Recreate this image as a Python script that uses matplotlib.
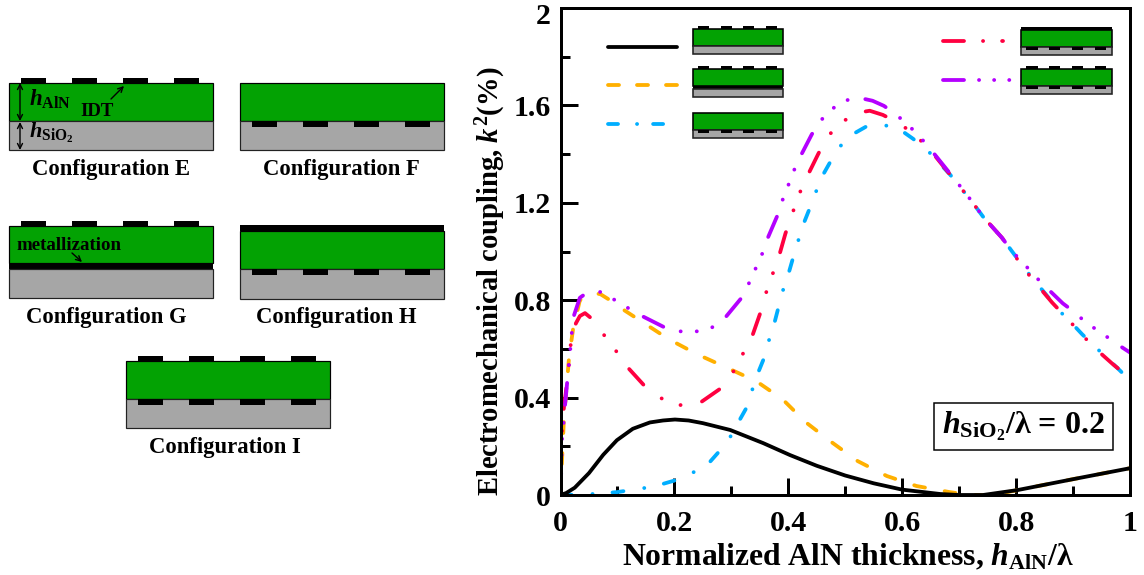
import matplotlib
matplotlib.use('Agg')
import matplotlib.pyplot as plt
from matplotlib.lines import Line2D
from matplotlib.patches import Rectangle
from matplotlib.transforms import ScaledTranslation

plt.rcParams['font.family'] = ['Liberation Serif', 'DejaVu Serif']
plt.rcParams['font.weight'] = 'bold'
plt.rcParams['mathtext.fontset'] = 'custom'
plt.rcParams['mathtext.rm'] = 'Liberation Serif:bold'
plt.rcParams['mathtext.it'] = 'Liberation Serif:italic:bold'
plt.rcParams['mathtext.bf'] = 'Liberation Serif:bold'
plt.rcParams['lines.scale_dashes'] = False

# values
black_x = [0, 0.01, 0.025, 0.05, 0.075, 0.099, 0.127, 0.157, 0.18, 0.201, 0.225, 0.25, 0.298, 0.356, 0.403,
           0.45, 0.5, 0.55, 0.6, 0.667, 0.7, 0.742, 0.802, 0.9, 1]
black_y = [0, 0.008, 0.03, 0.09, 0.165, 0.225, 0.272, 0.298, 0.306, 0.31, 0.306, 0.295, 0.267, 0.213, 0.164,
           0.12, 0.08, 0.048, 0.022, 0.004, 0, 0, 0.02, 0.065, 0.11]

orange_x = [0, 0.003, 0.006, 0.015, 0.022, 0.034, 0.054, 0.07, 0.087, 0.098, 0.19, 0.24, 0.29, 0.344, 0.39,
            0.43, 0.476, 0.522, 0.573, 0.625, 0.683, 0.72, 0.76, 0.802, 0.9, 1]
orange_y = [0, 0.16, 0.31, 0.565, 0.68, 0.80, 0.83, 0.825, 0.80, 0.78, 0.64, 0.578, 0.525, 0.467, 0.393,
            0.30, 0.217, 0.139, 0.078, 0.037, 0.012, 0, 0, 0.02, 0.065, 0.11]

blue_x = [0, 0.05, 0.1, 0.148, 0.179, 0.204, 0.234, 0.262, 0.279, 0.299, 0.315, 0.327, 0.337, 0.348, 0.357,
          0.366, 0.376, 0.39, 0.401, 0.408, 0.417, 0.427, 0.436, 0.448, 0.46, 0.473, 0.49, 0.515, 0.536,
          0.568, 0.599, 0.619, 0.645, 0.684, 0.721, 0.742, 0.775, 0.793, 0.819, 0.877, 0.9, 0.916, 0.982, 1]
blue_y = [0, 0.003, 0.012, 0.029, 0.045, 0.062, 0.094, 0.135, 0.18, 0.242, 0.31, 0.36, 0.434, 0.508, 0.56,
          0.635, 0.71, 0.836, 0.914, 0.971, 1.041, 1.115, 1.168, 1.242, 1.311, 1.365, 1.43, 1.484, 1.512,
          1.52, 1.496, 1.463, 1.414, 1.316, 1.209, 1.143, 1.057, 1.0, 0.918, 0.754, 0.70, 0.66, 0.512, 0.47]

red_x = [0, 0.001, 0.003, 0.006, 0.012, 0.018, 0.027, 0.034, 0.043, 0.057, 0.078, 0.099, 0.118, 0.148, 0.176,
         0.209, 0.244, 0.279, 0.302, 0.318, 0.336, 0.35, 0.36, 0.371, 0.383, 0.395, 0.406, 0.418, 0.432,
         0.452, 0.467, 0.492, 0.522, 0.543, 0.566, 0.596, 0.624, 0.649, 0.684, 0.721, 0.742, 0.775, 0.793,
         0.812, 0.835, 0.863, 0.886, 0.935, 0.97, 1]
red_y = [0, 0.18, 0.275, 0.36, 0.47, 0.62, 0.705, 0.735, 0.747, 0.72, 0.652, 0.587, 0.524, 0.447, 0.398,
         0.369, 0.377, 0.434, 0.50, 0.57, 0.648, 0.742, 0.824, 0.898, 0.975, 1.074, 1.148, 1.23, 1.303,
         1.398, 1.467, 1.529, 1.57, 1.578, 1.561, 1.525, 1.475, 1.418, 1.316, 1.209, 1.143, 1.057, 1.0,
         0.934, 0.869, 0.791, 0.734, 0.61, 0.537, 0.48]

purple_x = [0, 0.002, 0.003, 0.006, 0.008, 0.012, 0.015, 0.02, 0.024, 0.034, 0.046, 0.071, 0.096, 0.12, 0.144,
            0.183, 0.21, 0.239, 0.266, 0.288, 0.318, 0.33, 0.341, 0.353, 0.362, 0.38, 0.388, 0.399, 0.409,
            0.42, 0.441, 0.455, 0.475, 0.497, 0.525, 0.548, 0.568, 0.59, 0.612, 0.631, 0.649, 0.694, 0.712,
            0.742, 0.775, 0.793, 0.812, 0.83, 0.851, 0.882, 0.903, 0.924, 0.949, 0.97, 1]
purple_y = [0, 0.156, 0.24, 0.31, 0.37, 0.47, 0.54, 0.67, 0.74, 0.81, 0.83, 0.834, 0.80, 0.766, 0.734,
            0.688, 0.672, 0.672, 0.688, 0.725, 0.81, 0.865, 0.922, 0.983, 1.045, 1.143, 1.2, 1.266, 1.328,
            1.385, 1.48, 1.533, 1.582, 1.619, 1.631, 1.619, 1.598, 1.561, 1.516, 1.471, 1.422, 1.291, 1.238,
            1.143, 1.057, 1.0, 0.955, 0.906, 0.857, 0.787, 0.75, 0.705, 0.668, 0.631, 0.585]

x_ticks = [0, 0.2, 0.4, 0.6, 0.8, 1]
x_tick_labels = ['0', '0.2', '0.4', '0.6', '0.8', '1']
y_ticks = [0, 0.4, 0.8, 1.2, 1.6, 2]
y_tick_labels = ['0', '0.4', '0.8', '1.2', '1.6', '2']

GREEN = '#03A203'
GRAY = '#A6A6A6'
ORANGE = '#FFB000'
BLUE = '#00AEFF'
RED = '#FF0040'
PURPLE = '#B400FF'

W, H = 1144, 575
PX = 0.72  # one pixel in points at dpi 100


def dash(*pixels):
    return (0, [p * PX for p in pixels])


orange_dash = dash(11, 20)
blue_dash = dash(11, 21, 0.1, 20)
red_dash = dash(21, 23, 0.1, 20, 0.1, 22)
purple_dash = dash(22, 18, 0.1, 16, 0.1, 16, 0.1, 18)

fig = plt.figure(figsize=(W / 100, H / 100), dpi=100)

# main plot
ax = fig.add_axes([560.5 / W, (H - 495) / H, 569.5 / W, 487 / H])
line_w = 3.8 * PX
style = dict(lw=line_w, dash_capstyle='round', solid_capstyle='round', solid_joinstyle='round', clip_on=True)
ax.plot(orange_x, orange_y, color=ORANGE, ls=orange_dash, **style)
ax.plot(blue_x, blue_y, color=BLUE, ls=blue_dash, **style)
ax.plot(red_x, red_y, color=RED, ls=red_dash, **style)
ax.plot(purple_x, purple_y, color=PURPLE, ls=purple_dash, **style)
ax.plot(black_x, black_y, color='black', ls='-', **style)

ax.set_xlim(0, 1)
ax.set_ylim(0, 2)
ax.set_xticks(x_ticks)
ax.set_xticklabels(x_tick_labels)
ax.set_yticks(y_ticks)
ax.set_yticklabels(y_tick_labels)
ax.set_xticks([0.1, 0.3, 0.5, 0.7, 0.9], minor=True)
ax.set_yticks([0.2, 0.6, 1.0, 1.4, 1.8], minor=True)
ax.tick_params(which='major', direction='in', length=17 * PX, width=3 * PX, labelsize=21.5)
ax.tick_params(which='minor', direction='in', length=9 * PX, width=3 * PX)
ax.tick_params(axis='x', which='major', pad=11)
ax.tick_params(axis='y', which='major', pad=7)
for sp in ax.spines.values():
    sp.set_linewidth(3 * PX)

# top label sits a little below its tick so it stays on the canvas
top_label = ax.get_yticklabels()[-1]
top_label.set_transform(top_label.get_transform() + ScaledTranslation(0, -5 / 100, fig.dpi_scale_trans))

# overlay in pixel coordinates for schematics and text
ov = fig.add_axes([0, 0, 1, 1], zorder=5)
ov.set_xlim(0, W)
ov.set_ylim(H, 0)
ov.axis('off')
ov.patch.set_alpha(0)


def stack(x, top, width, green_h, gray_h, top_idt=False, mid_idt=False, top_metal=0, mid_metal=0,
          idt_h=5.5, edge=1.2):
    k = width / 204
    y = top
    if top_metal:
        ov.add_patch(Rectangle((x, y), width, top_metal, fc='black', ec='none'))
        y += top_metal
    ov.add_patch(Rectangle((x, y), width, green_h, fc=GREEN, ec='black', lw=edge * PX))
    y += green_h
    if mid_metal:
        ov.add_patch(Rectangle((x, y), width, mid_metal, fc='black', ec='none'))
    y2 = y + mid_metal
    ov.add_patch(Rectangle((x, y2), width, gray_h, fc=GRAY, ec='#222222', lw=edge * PX))
    for off in [12, 63, 114, 165]:
        if top_idt:
            ov.add_patch(Rectangle((x + off * k, top - idt_h), 25 * k, idt_h, fc='black', ec='none'))
        if mid_idt:
            ov.add_patch(Rectangle((x + off * k, y), 25 * k, idt_h, fc='black', ec='none'))


stack(9, 83, 204, 38, 29, top_idt=True)
stack(240, 83, 204, 38, 29, mid_idt=True)
stack(9, 226, 204, 37, 29, top_idt=True, mid_metal=6)
stack(240, 225, 204, 38, 29.5, mid_idt=True, top_metal=6)
stack(126, 361, 204, 38, 29, top_idt=True, mid_idt=True)

stack(693, 29, 90, 17, 8, top_idt=True, idt_h=3, edge=1.6)
stack(693, 69, 90, 17, 7.5, top_idt=True, mid_metal=3, idt_h=3, edge=1.6)
stack(693, 113, 90, 17, 8, mid_idt=True, idt_h=3, edge=1.6)
stack(1021, 27, 91, 16.5, 8, mid_idt=True, top_metal=3, idt_h=3, edge=1.6)
stack(1021, 69, 91, 17, 8, top_idt=True, mid_idt=True, idt_h=3, edge=1.6)

config_names = ['Configuration E', 'Configuration F', 'Configuration G', 'Configuration H', 'Configuration I']
config_x = [111, 341, 106, 336, 225]
config_y = [170, 170, 318, 318, 448]
for name, cx, cy in zip(config_names, config_x, config_y):
    ov.text(cx, cy, name, ha='center', va='center', fontsize=16.3)

# arrows and notes inside the schematics
arrow = dict(arrowstyle='<->', color='black', lw=1.0, mutation_scale=9, shrinkA=0, shrinkB=0)
ov.annotate('', xy=(20, 83), xytext=(20, 121), arrowprops=arrow)
ov.annotate('', xy=(20, 122), xytext=(20, 150), arrowprops=arrow)
one_way = dict(arrowstyle='->', color='black', lw=1.0, mutation_scale=9, shrinkA=0, shrinkB=0)
ov.annotate('', xy=(124, 86), xytext=(111, 99), arrowprops=one_way)
ov.annotate('', xy=(82, 262), xytext=(72, 253), arrowprops=one_way)
ov.text(29, 99, r'$\mathit{h}_{\mathrm{AlN}}$', fontsize=16.5, ha='left', va='center')
ov.text(29, 133, r'$\mathit{h}_{\mathrm{SiO_2}}$', fontsize=16, ha='left', va='center')
ov.text(80, 111, 'IDT', fontsize=13.5, ha='left', va='center')
ov.text(16, 245, 'metallization', fontsize=13.6, ha='left', va='center')

# legend lines
legend_x0 = [608, 608, 608, 943, 943]
legend_x1 = [677, 678, 666, 1003, 1010]
legend_y = [46.5, 85, 124, 41, 80]
legend_colors = ['black', ORANGE, BLUE, RED, PURPLE]
legend_dashes = ['-', dash(11, 18), dash(10, 19, 0.1, 16), dash(21, 19, 0.1, 19),
                 dash(21, 15, 0.1, 15, 0.1, 15, 0.1, 15)]
for x0, x1, y, c, d in zip(legend_x0, legend_x1, legend_y, legend_colors, legend_dashes):
    ov.add_line(Line2D([x0, x1], [y, y], color=c, ls=d, lw=line_w, dash_capstyle='round',
                       solid_capstyle='round'))

# box with the fixed thickness
ov.add_patch(Rectangle((934, 403), 179, 47, fc='white', ec='black', lw=1.5 * PX))
ov.text(1023.5, 426, r'$\mathit{h}_{\mathrm{SiO_2}}$/λ = 0.2', fontsize=23, ha='center', va='center')

# axis titles
ov.text(848, 557, r'Normalized AlN thickness, $\mathit{h}_{\mathrm{AlN}}$/λ', fontsize=22.8,
        ha='center', va='center')
ov.text(491, 281, r'Electromechanical coupling, $\mathit{k}^{\mathrm{2}}$(%)', fontsize=20.6,
        rotation=90, ha='center', va='center')

fig.savefig('out.png', dpi=100)
